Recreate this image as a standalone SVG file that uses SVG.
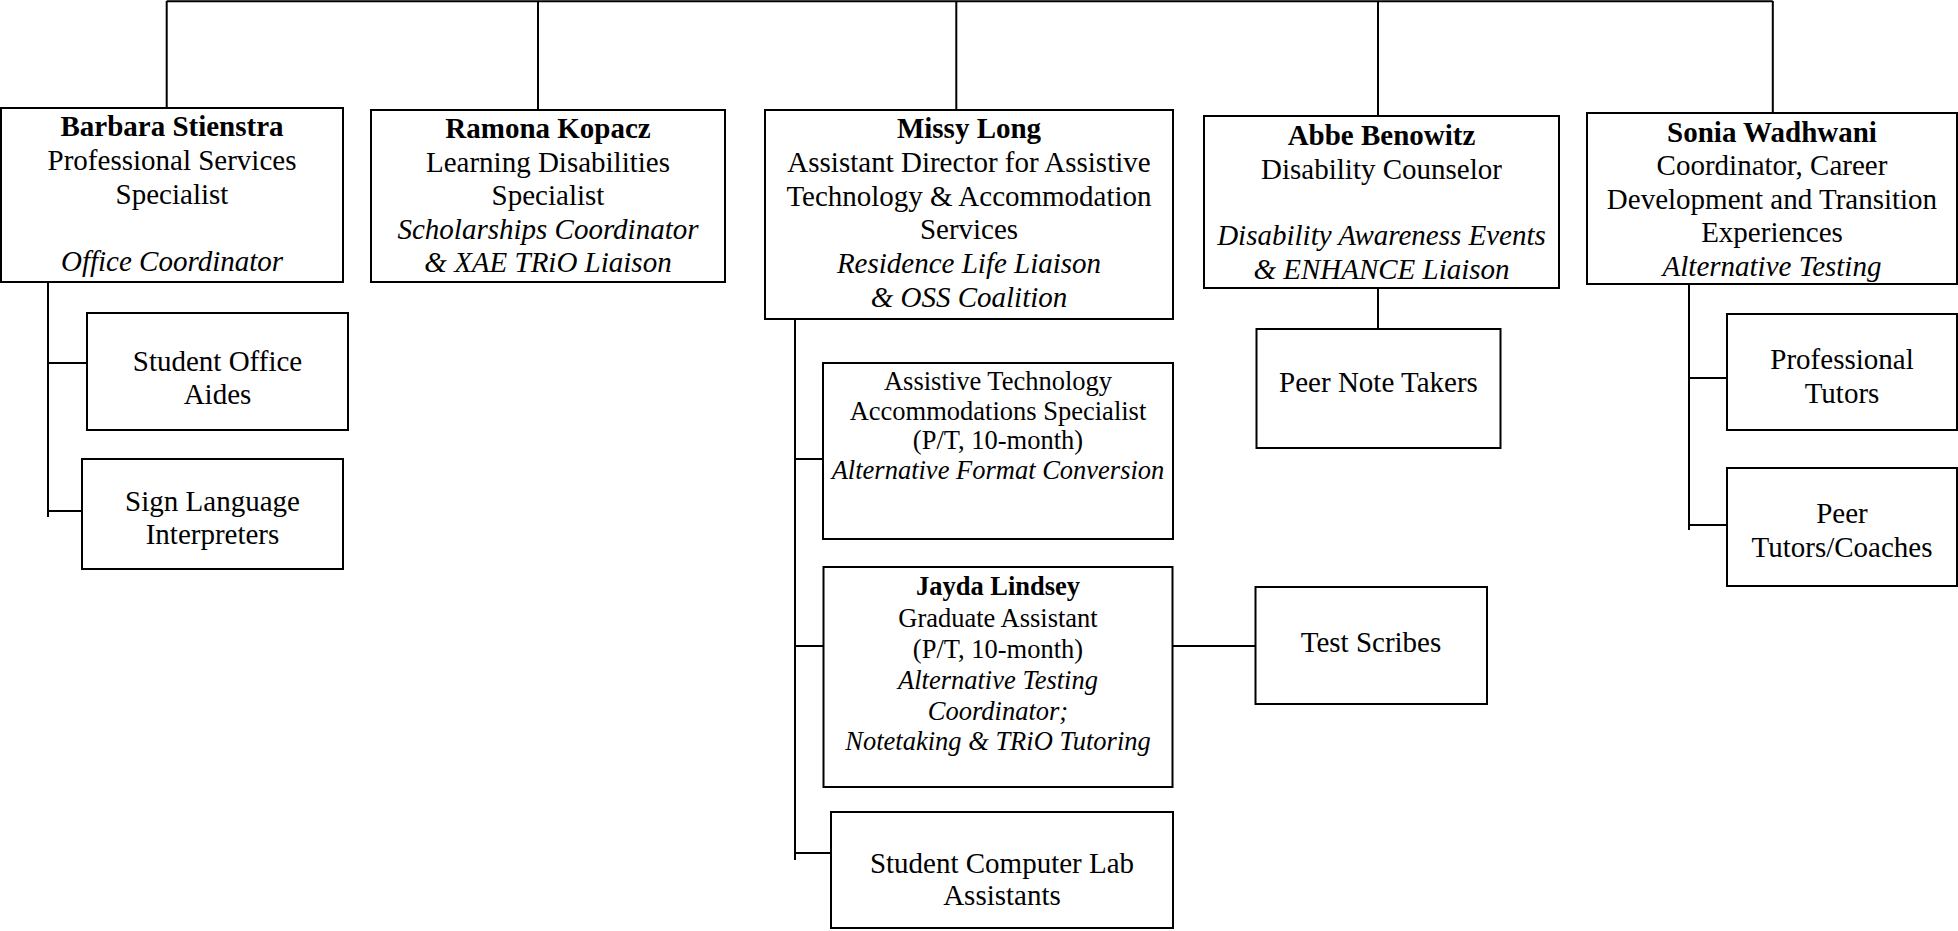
<svg xmlns="http://www.w3.org/2000/svg" width="1958" height="931" viewBox="0 0 1958 931">
<style>
  .box { fill: #fff; stroke: #000; stroke-width: 2; }
  .ln { fill: none; stroke: #000; stroke-width: 2; }
  text { font-family: "Liberation Serif", "Times New Roman", serif; font-size: 29px; fill: #000; text-anchor: middle; }
  .b { font-weight: bold; }
  .i { font-style: italic; }
  .s { font-size: 26.5px; }
</style>
<rect width="1958" height="931" fill="#fff"/>
<g id="connectors">
  <path class="ln" d="M166.7,1.2 H1772.8"/>
  <path class="ln" d="M166.7,1 V108 M538,1 V110 M956.3,1 V110 M1378,1 V116 M1772.8,1 V113"/>
  <path class="ln" d="M48,278 V517 M48,363 H87 M48,511 H82"/>
  <path class="ln" d="M795,318 V860 M795,459 H823 M795,646 H823.5 M795,853 H831"/>
  <path class="ln" d="M1172.5,646 H1255.5"/>
  <path class="ln" d="M1378,288 V329"/>
  <path class="ln" d="M1689,284 V530 M1689,378 H1727 M1689,525 H1727"/>
</g>
<g id="barbara">
  <rect class="box" x="1" y="108" width="342" height="174"/>
  <text x="172" y="136" class="b">Barbara Stienstra</text>
  <text x="172" y="170">Professional Services</text>
  <text x="172" y="203.5">Specialist</text>
  <text x="172" y="270.5" class="i">Office Coordinator</text>
</g>
<g id="ramona">
  <rect class="box" x="371" y="110" width="354" height="172"/>
  <text x="548" y="138.3" class="b">Ramona Kopacz</text>
  <text x="548" y="171.7">Learning Disabilities</text>
  <text x="548" y="205">Specialist</text>
  <text x="548" y="238.5" class="i">Scholarships Coordinator</text>
  <text x="548" y="272" class="i">&amp; XAE TRiO Liaison</text>
</g>
<g id="missy">
  <rect class="box" x="765" y="110" width="408" height="209"/>
  <text x="969" y="138.3" class="b">Missy Long</text>
  <text x="969" y="172">Assistant Director for Assistive</text>
  <text x="969" y="205.7">Technology &amp; Accommodation</text>
  <text x="969" y="239.4">Services</text>
  <text x="969" y="273" class="i">Residence Life Liaison</text>
  <text x="969" y="306.7" class="i">&amp; OSS Coalition</text>
</g>
<g id="abbe">
  <rect class="box" x="1204" y="116" width="355" height="172"/>
  <text x="1381.5" y="145" class="b">Abbe Benowitz</text>
  <text x="1381.5" y="178.5">Disability Counselor</text>
  <text x="1381.5" y="245" class="i">Disability Awareness Events</text>
  <text x="1381.5" y="278.5" class="i">&amp; ENHANCE Liaison</text>
</g>
<g id="sonia">
  <rect class="box" x="1587" y="113" width="370" height="171"/>
  <text x="1772" y="141.7" class="b">Sonia Wadhwani</text>
  <text x="1772" y="175.3">Coordinator, Career</text>
  <text x="1772" y="208.9">Development and Transition</text>
  <text x="1772" y="242.4">Experiences</text>
  <text x="1772" y="276" class="i">Alternative Testing</text>
</g>
<g id="student-office-aides">
  <rect class="box" x="87" y="313" width="261" height="117"/>
  <text x="217.5" y="371">Student Office</text>
  <text x="217.5" y="404">Aides</text>
</g>
<g id="sign-language">
  <rect class="box" x="82" y="459" width="261" height="110"/>
  <text x="212.5" y="511">Sign Language</text>
  <text x="212.5" y="544">Interpreters</text>
</g>
<g id="at-specialist">
  <rect class="box" x="823" y="363" width="350" height="176"/>
  <text x="998" y="390" class="s">Assistive Technology</text>
  <text x="998" y="419.5" class="s">Accommodations Specialist</text>
  <text x="998" y="449" class="s">(P/T, 10-month)</text>
  <text x="998" y="479" class="s i">Alternative Format Conversion</text>
</g>
<g id="jayda">
  <rect class="box" x="823.5" y="567" width="349" height="220"/>
  <text x="998" y="595" class="s b">Jayda Lindsey</text>
  <text x="998" y="626.5" class="s">Graduate Assistant</text>
  <text x="998" y="658" class="s">(P/T, 10-month)</text>
  <text x="998" y="688.5" class="s i">Alternative Testing</text>
  <text x="998" y="719.5" class="s i">Coordinator;</text>
  <text x="998" y="750" class="s i">Notetaking &amp; TRiO Tutoring</text>
</g>
<g id="test-scribes">
  <rect class="box" x="1255.5" y="587" width="231.5" height="117"/>
  <text x="1371" y="652">Test Scribes</text>
</g>
<g id="lab-assistants">
  <rect class="box" x="831" y="812" width="342" height="116"/>
  <text x="1002" y="873">Student Computer Lab</text>
  <text x="1002" y="905">Assistants</text>
</g>
<g id="peer-note-takers">
  <rect class="box" x="1256.5" y="329" width="244" height="119"/>
  <text x="1378.5" y="392">Peer Note Takers</text>
</g>
<g id="professional-tutors">
  <rect class="box" x="1727" y="314" width="230" height="116"/>
  <text x="1842" y="369">Professional</text>
  <text x="1842" y="403">Tutors</text>
</g>
<g id="peer-tutors">
  <rect class="box" x="1727" y="468" width="230" height="118"/>
  <text x="1842" y="523">Peer</text>
  <text x="1842" y="557">Tutors/Coaches</text>
</g>
</svg>
